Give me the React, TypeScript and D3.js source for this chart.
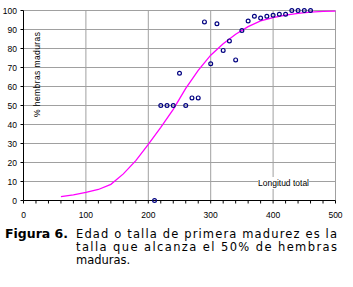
import React from "react";
import * as d3 from "d3";

const obsX = [210, 220, 230, 240, 250, 260, 270, 280, 290, 300, 310, 320, 330, 340, 350, 360, 370, 380, 390, 400, 410, 420, 430, 440, 450, 460];
const obsY = [0, 50, 50, 50, 67, 50, 54, 54, 94, 72, 93, 79, 84, 74, 89.5, 94.5, 97, 96, 97, 97.5, 98, 98, 100, 100, 100, 100];

const fitX = [60, 80, 100, 120, 140, 160, 180, 200, 220, 240, 260, 280, 300, 320, 340, 360, 380, 400, 420, 440, 460, 480, 500];
const fitY = [2, 3, 4.3, 5.8, 8.5, 14, 21, 29.5, 38.5, 48, 59, 68.5, 76.5, 82.5, 87.5, 91.5, 94.5, 96.3, 97.6, 98.5, 99.1, 99.5, 99.7];

const xTicks = [0, 100, 200, 300, 400, 500];
const yTicks = [0, 10, 20, 30, 40, 50, 60, 70, 80, 90, 100];
const xMinor = d3.range(0, 501, 20);

const yLabel = "% hembras maduras";
const xLabel = "Longitud total";
const captionBold = "Figura 6.";
const captionLines = [
  "Edad o talla de primera madurez es la",
  "talla que alcanza el 50% de hembras",
  "maduras.",
];

export default function App() {
  const x = d3.scaleLinear().domain([0, 500]).range([23.5, 335.5]);
  const y = d3.scaleLinear().domain([0, 100]).range([200.5, 10.5]);
  const line = d3
    .line<number>()
    .x((_, i) => x(fitX[i]))
    .y((d) => y(d));
  const axisFont = "'Liberation Sans', Arial, sans-serif";
  const capFont = "'DejaVu Sans', Verdana, sans-serif";
  const grid = "#a0a0a0";
  return (
    <svg
      width={353}
      height={287}
      style={{ position: "absolute", left: 0, top: 0, background: "#fff" }}
    >
      <rect x={0} y={0} width={353} height={287} fill="#fff" />
      {/* horizontal gridlines */}
      {yTicks.slice(1).map((t) => (
        <line key={"hg" + t} x1={x(0)} x2={x(500)} y1={y(t)} y2={y(t)} stroke={grid} strokeWidth={1} />
      ))}
      {/* vertical gridlines */}
      {xTicks.slice(1).map((t) => (
        <line key={"vg" + t} x1={x(t)} x2={x(t)} y1={y(0)} y2={y(100)} stroke={grid} strokeWidth={1} />
      ))}
      {/* x label with white background */}
      <rect x={258} y={177} width={51} height={12} fill="#fff" />
      <text x={283.5} y={186} fontFamily={axisFont} fontSize={8.5} textAnchor="middle" fill="#000">
        {xLabel}
      </text>
      {/* axes */}
      <line x1={x(0)} x2={x(0)} y1={y(0)} y2={y(100)} stroke="#000" strokeWidth={1} />
      <line x1={x(0)} x2={x(500)} y1={y(0)} y2={y(0)} stroke="#000" strokeWidth={1} />
      {yTicks.map((t) => (
        <g key={"yt" + t}>
          <line x1={x(0) - 3} x2={x(0)} y1={y(t)} y2={y(t)} stroke="#000" />
          <text x={17} y={y(t) + 3} fontFamily={axisFont} fontSize={8.5} textAnchor="end" fill="#000">
            {t}
          </text>
        </g>
      ))}
      {xMinor.map((t) => (
        <line key={"xm" + t} x1={x(t)} x2={x(t)} y1={y(0)} y2={y(0) + 3} stroke="#000" />
      ))}
      {xTicks.map((t) => (
        <text key={"xt" + t} x={x(t)} y={218} fontFamily={axisFont} fontSize={8.5} textAnchor="middle" fill="#000">
          {t}
        </text>
      ))}
      <text
        transform="translate(39.5,74.5) rotate(-90)"
        fontFamily={axisFont}
        fontSize={8.5}
        textAnchor="middle"
        textLength={85}
        lengthAdjust="spacing"
        fill="#000"
      >
        {yLabel}
      </text>
      {/* fitted curve */}
      <path d={line(fitY) || ""} fill="none" stroke="#ff00ff" strokeWidth={1.3} />
      {/* observations */}
      {obsX.map((v, i) => (
        <circle key={"o" + i} cx={x(v)} cy={y(obsY[i])} r={1.9} fill="none" stroke="#000080" strokeWidth={1.2} />
      ))}
      {/* caption */}
      <text x={5} y={237.5} fontFamily={capFont} fontSize={11.5} fontWeight="bold" textLength={63} lengthAdjust="spacingAndGlyphs" fill="#000">
        {captionBold}
      </text>
      <text x={76} y={237.5} fontFamily={capFont} fontSize={11.5} textLength={261} lengthAdjust="spacing" fill="#000">
        {captionLines[0]}
      </text>
      <text x={76} y={250.5} fontFamily={capFont} fontSize={11.5} textLength={261} lengthAdjust="spacing" fill="#000">
        {captionLines[1]}
      </text>
      <text x={76} y={263.5} fontFamily={capFont} fontSize={11.5} fill="#000">
        {captionLines[2]}
      </text>
    </svg>
  );
}
